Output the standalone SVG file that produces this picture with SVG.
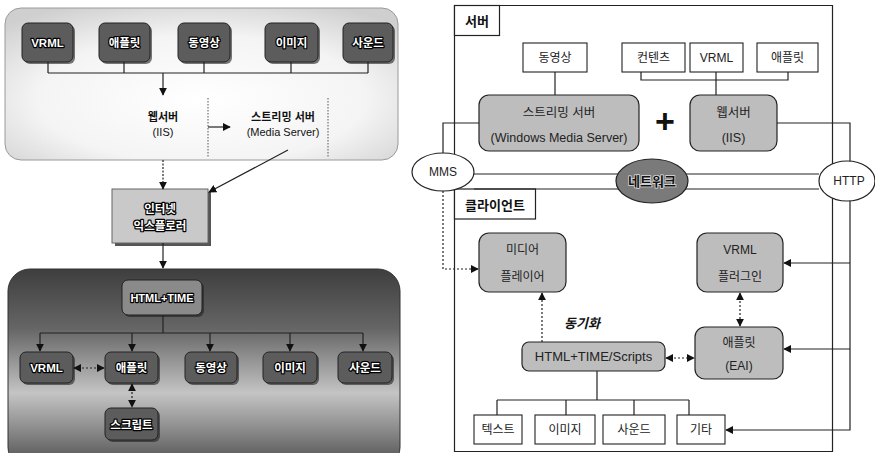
<svg xmlns="http://www.w3.org/2000/svg" width="875" height="453" viewBox="0 0 875 453">
<defs>
  <marker id="ah" viewBox="0 0 10 10" refX="9" refY="5" markerUnits="userSpaceOnUse" markerWidth="8" markerHeight="8" orient="auto-start-reverse">
    <path d="M0,0 L10,5 L0,10 z" fill="#111"/>
  </marker>
  <radialGradient id="gTop" cx="0.5" cy="0.6" r="0.7">
    <stop offset="0" stop-color="#ffffff"/>
    <stop offset="0.6" stop-color="#f4f4f4"/>
    <stop offset="1" stop-color="#cfcfcf"/>
  </radialGradient>
  <linearGradient id="gBot" x1="0" y1="0" x2="0" y2="1">
    <stop offset="0" stop-color="#3e3e3e"/>
    <stop offset="0.3" stop-color="#666"/>
    <stop offset="0.62" stop-color="#c4c4c4"/>
    <stop offset="0.8" stop-color="#8c8c8c"/>
    <stop offset="1" stop-color="#4a4a4a"/>
  </linearGradient>
</defs>
<style>
  text{font-family:"Liberation Sans","Noto Sans CJK KR",sans-serif;text-anchor:middle}
  .lb{fill:#5c5c5c;stroke:#222;stroke-width:1}
  .sh{fill:#222;opacity:0.6}
  .lt{font-size:11.5px;font-weight:bold;fill:#fff;stroke:#000;stroke-width:2.4px;paint-order:stroke;stroke-linejoin:round}
  .pt{font-size:11px;fill:#111}
  .ln{fill:none;stroke:#222;stroke-width:1.2}
  .dl{fill:none;stroke:#222;stroke-width:1.2;stroke-dasharray:2,2}
  .rb{fill:#bdbdbd;stroke:#222;stroke-width:1.2}
  .wb{fill:#fff;stroke:#222;stroke-width:1.1}
  .rt{font-size:12px;fill:#222}
</style>

<!-- Left top panel -->
<g id="panel-server-left">
  <rect x="5" y="8" width="393" height="152" rx="16" fill="url(#gTop)" stroke="#9a9a9a" stroke-width="1"/>
  <line x1="208" y1="98" x2="208" y2="158" stroke="#555" stroke-width="1" stroke-dasharray="1.5,1.5"/>
  <line x1="328" y1="98" x2="328" y2="158" stroke="#555" stroke-width="1" stroke-dasharray="1.5,1.5"/>
</g>
<g id="l-vrml"><rect class="sh" x="24" y="25" width="51" height="39" rx="6"/><rect class="lb" x="22" y="23" width="51" height="39" rx="6"/><text class="lt" x="47.5" y="47">VRML</text></g>
<g id="l-applet"><rect class="sh" x="101" y="25" width="51" height="39" rx="6"/><rect class="lb" x="99" y="23" width="51" height="39" rx="6"/><text class="lt" x="124.5" y="47">애플릿</text></g>
<g id="l-video"><rect class="sh" x="180" y="25" width="52" height="39" rx="6"/><rect class="lb" x="178" y="23" width="52" height="39" rx="6"/><text class="lt" x="204" y="47">동영상</text></g>
<g id="l-image"><rect class="sh" x="267" y="25" width="53" height="39" rx="6"/><rect class="lb" x="265" y="23" width="53" height="39" rx="6"/><text class="lt" x="291.5" y="47">이미지</text></g>
<g id="l-sound"><rect class="sh" x="345" y="25" width="50" height="39" rx="6"/><rect class="lb" x="343" y="23" width="50" height="39" rx="6"/><text class="lt" x="368" y="47">사운드</text></g>
<g id="l-webserver">
  <text x="163" y="121" style="font-size:11px;font-weight:bold;fill:#111">웹서버</text>
  <text x="163" y="136" style="font-size:11px;fill:#111">(IIS)</text>
</g>
<g id="l-streaming">
  <text x="283" y="121" style="font-size:11px;font-weight:bold;fill:#111">스트리밍 서버</text>
  <text x="283" y="136" style="font-size:11px;fill:#111">(Media Server)</text>
</g>
<g id="l-ie">
  <rect x="115" y="192" width="96" height="54" fill="#555"/>
  <rect x="112" y="189" width="96" height="54" fill="#c9c9c9" stroke="#666" stroke-width="1"/>
  <text class="lt" x="160" y="213" style="font-size:11.5px">인터넷</text>
  <text class="lt" x="160" y="230" style="font-size:11.5px">익스플로러</text>
</g>

<!-- Left bottom panel -->
<g id="panel-client-left">
  <rect x="8" y="269" width="392" height="200" rx="22" fill="url(#gBot)" stroke="#333" stroke-width="1"/>
</g>
<g id="l-htmltime"><rect class="sh" x="124" y="282" width="80" height="35" rx="6"/><rect x="122" y="280" width="80" height="35" rx="6" fill="#8a8a8a" stroke="#222"/><text class="lt" x="162" y="302" style="font-size:11px">HTML+TIME</text></g>
<g id="l2-vrml"><rect class="sh" x="22" y="354" width="53" height="31" rx="6"/><rect class="lb" x="20" y="352" width="53" height="31" rx="6"/><text class="lt" x="46.5" y="372">VRML</text></g>
<g id="l2-applet"><rect class="sh" x="107" y="354" width="53" height="31" rx="6"/><rect class="lb" x="105" y="352" width="53" height="31" rx="6"/><text class="lt" x="131.5" y="372">애플릿</text></g>
<g id="l2-video"><rect class="sh" x="187" y="354" width="52" height="31" rx="6"/><rect class="lb" x="185" y="352" width="52" height="31" rx="6"/><text class="lt" x="211" y="372">동영상</text></g>
<g id="l2-image"><rect class="sh" x="265" y="354" width="54" height="31" rx="6"/><rect class="lb" x="263" y="352" width="54" height="31" rx="6"/><text class="lt" x="290" y="372">이미지</text></g>
<g id="l2-sound"><rect class="sh" x="340" y="354" width="54" height="31" rx="6"/><rect class="lb" x="338" y="352" width="54" height="31" rx="6"/><text class="lt" x="365" y="372">사운드</text></g>
<g id="l2-script"><rect class="sh" x="107" y="410" width="53" height="32" rx="6"/><rect class="lb" x="105" y="408" width="53" height="32" rx="6"/><text class="lt" x="131.5" y="429">스크립트</text></g>

<!-- Right side frames -->
<g id="frame-server">
  <polyline points="454.5,174 454.5,5.5 832.5,5.5 832.5,174" fill="none" stroke="#222" stroke-width="1.2"/>
  <rect x="454.5" y="5.5" width="45" height="30" fill="#fff" stroke="#222" stroke-width="1.2"/>
  <text x="477" y="26" style="font-size:13px;font-weight:bold;fill:#111">서버</text>
</g>
<g id="frame-client">
  <polyline points="454.5,189 454.5,451.5 832.5,451.5 832.5,189" fill="none" stroke="#222" stroke-width="1.2"/>
  <rect x="454.5" y="189" width="81" height="30" fill="#fff" stroke="#222" stroke-width="1.2"/>
  <text x="495" y="210" style="font-size:13px;font-weight:bold;fill:#111">클라이언트</text>
</g>

<!-- Connectors -->
<g id="connectors">
  <!-- left top -->
  <path class="ln" d="M48,62 V73 M124,62 V73 M204,62 V73 M291,62 V73 M368,62 V73 M48,73 H368"/>
  <path class="ln" d="M163,73 V95" marker-end="url(#ah)"/>
  <path class="ln" d="M208,127 H230" marker-end="url(#ah)"/>
  <path class="ln" d="M163,160 V189" stroke-dasharray="2,1.5" marker-end="url(#ah)"/>
  <path class="ln" d="M288,150 L209,192" marker-end="url(#ah)"/>
  <path class="ln" d="M163,243 V268" marker-end="url(#ah)"/>
  <!-- left bottom -->
  <path class="ln" d="M163,315 V333 M40,333 H363"/>
  <path class="ln" d="M40,333 V351" marker-end="url(#ah)"/>
  <path class="ln" d="M132,333 V351" marker-end="url(#ah)"/>
  <path class="ln" d="M210,333 V351" marker-end="url(#ah)"/>
  <path class="ln" d="M290,333 V351" marker-end="url(#ah)"/>
  <path class="ln" d="M363,333 V351" marker-end="url(#ah)"/>
  <path class="dl" d="M74,368 H104" stroke="#eee" marker-start="url(#ah)" marker-end="url(#ah)"/>
  <path class="dl" d="M132,384 V407" stroke="#eee" marker-start="url(#ah)" marker-end="url(#ah)"/>
  <!-- right server -->
  <path class="ln" d="M555,72 V95"/>
  <path class="ln" d="M641,72 V80 H788 V72 M716,72 V95"/>
  <!-- network lines -->
  <path class="ln" d="M474,174 H819 M474,189 H819"/>
  <!-- MMS path -->
  <path class="ln" d="M479,123 H443 V153"/>
  <path class="dl" d="M443,191 V269 H478" marker-end="url(#ah)"/>
  <!-- HTTP path -->
  <path class="ln" d="M777,123 H850 V430 H726" marker-end="url(#ah)"/>
  <path class="ln" d="M850,263 H784" marker-end="url(#ah)"/>
  <path class="ln" d="M850,349 H784" marker-end="url(#ah)"/>
  <!-- client internal -->
  <path class="dl" d="M542,342 V293" marker-end="url(#ah)"/>
  <path class="dl" d="M740,293 V326" marker-start="url(#ah)" marker-end="url(#ah)"/>
  <path class="dl" d="M666,358 H694" marker-start="url(#ah)" marker-end="url(#ah)"/>
  <path class="ln" d="M597,371 V400 M497,400 H689 M497,400 V415 M566,400 V415 M634,400 V415 M689,400 V415"/>
</g>

<!-- Right nodes -->
<g id="r-video"><rect class="wb" x="523" y="43" width="64" height="29"/><text class="rt" x="555" y="62">동영상</text></g>
<g id="r-contents"><rect class="wb" x="622" y="43" width="63" height="29"/><text class="rt" x="653.5" y="62">컨텐츠</text></g>
<g id="r-vrml"><rect class="wb" x="690" y="43" width="53" height="29"/><text class="rt" x="716.5" y="62">VRML</text></g>
<g id="r-applet"><rect class="wb" x="757" y="43" width="61" height="29"/><text class="rt" x="787.5" y="62">애플릿</text></g>
<g id="r-streaming">
  <rect class="rb" x="479" y="95" width="160" height="56" rx="10"/>
  <text class="rt" x="559" y="117" style="font-size:12.5px">스트리밍 서버</text>
  <text class="rt" x="559" y="142" style="font-size:12.5px">(Windows Media Server)</text>
</g>
<g id="r-plus"><text x="665" y="133" style="font-size:34px;font-weight:bold;fill:#111">+</text></g>
<g id="r-webserver">
  <rect class="rb" x="690" y="95" width="87" height="56" rx="10"/>
  <text class="rt" x="733.5" y="117" style="font-size:12.5px">웹서버</text>
  <text class="rt" x="733.5" y="142" style="font-size:12.5px">(IIS)</text>
</g>
<g id="r-mms"><ellipse cx="443" cy="172" rx="31" ry="19" fill="#fff" stroke="#222" stroke-width="1.2"/><text class="rt" x="443" y="176">MMS</text></g>
<g id="r-network"><ellipse cx="652" cy="181" rx="36" ry="22" fill="#7a7a7a" stroke="#222" stroke-width="1.2"/><text x="652" y="186" style="font-size:13px;font-weight:bold;fill:#111;stroke:#ddd;stroke-width:1.5px;paint-order:stroke">네트워크</text></g>
<g id="r-http"><ellipse cx="847" cy="181" rx="28" ry="20" fill="#fff" stroke="#222" stroke-width="1.2"/><text class="rt" x="849" y="185">HTTP</text></g>
<g id="r-mediaplayer">
  <rect class="rb" x="479" y="233" width="87" height="59" rx="10"/>
  <text class="rt" x="522.5" y="254">미디어</text>
  <text class="rt" x="522.5" y="281">플레이어</text>
</g>
<g id="r-vrmlplugin">
  <rect class="rb" x="697" y="233" width="86" height="59" rx="10"/>
  <text class="rt" x="740" y="254">VRML</text>
  <text class="rt" x="740" y="281">플러그인</text>
</g>
<g id="r-sync"><text x="582" y="328" style="font-size:13px;font-weight:bold;font-style:italic;fill:#111">동기화</text></g>
<g id="r-htmltime">
  <rect class="rb" x="522" y="342" width="143" height="29" rx="7"/>
  <text class="rt" x="593.5" y="361" style="font-size:13px">HTML+TIME/Scripts</text>
</g>
<g id="r-applet-eai">
  <rect class="rb" x="695" y="327" width="88" height="52" rx="10"/>
  <text class="rt" x="739" y="347">애플릿</text>
  <text class="rt" x="739" y="370">(EAI)</text>
</g>
<g id="r-text"><rect class="wb" x="474" y="415" width="48" height="29"/><text class="rt" x="498" y="434">텍스트</text></g>
<g id="r-image"><rect class="wb" x="535" y="415" width="60" height="29"/><text class="rt" x="565" y="434">이미지</text></g>
<g id="r-sound"><rect class="wb" x="603" y="415" width="62" height="29"/><text class="rt" x="634" y="434">사운드</text></g>
<g id="r-etc"><rect class="wb" x="677" y="415" width="48" height="29"/><text class="rt" x="701" y="434">기타</text></g>
</svg>
